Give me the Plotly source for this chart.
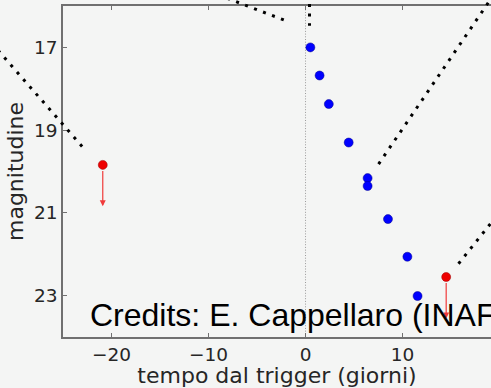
import plotly.graph_objects as go

# ---- data ----
blue_days = [0.5, 1.45, 2.4, 4.45, 6.4, 6.4, 8.5, 10.5, 11.55]
blue_mag = [17.0, 17.68, 18.37, 19.30, 20.16, 20.35, 21.15, 22.06, 23.01]
red_days = [-20.9, 14.5]
red_mag = [19.84, 22.55]
limit_drop = [1.0, 1.0]

# model / guide dotted lines (start, end) in data units
model_x0 = [-33.0, -9.0, 0.41, 7.53, 15.77]
model_y0 = [16.72, 15.73, 15.95, 19.82, 22.23]
model_x1 = [-22.9, -1.65, 0.41, 19.3, 20.5]
model_y1 = [19.43, 16.39, 16.48, 15.76, 20.84]

x_ticks = [-20, -10, 0, 10, 20]
y_ticks = [17, 19, 21, 23]
x_range = [-25, 19.12]
y_range = [24, 16]

BG = "#f4f5f4"
SPINE = "#707070"
TXT = "#262626"


def fx(v):
    return (v - x_range[0]) / (x_range[1] - x_range[0])


def fy(v):
    return (v - y_range[0]) / (y_range[1] - y_range[0])


fig = go.Figure()

fig.add_trace(go.Scatter(
    x=blue_days, y=blue_mag, mode="markers",
    marker=dict(color="#0000ff", size=9, line=dict(color="#00008a", width=0.5)),
    cliponaxis=False, showlegend=False))
fig.add_trace(go.Scatter(
    x=red_days, y=red_mag, mode="markers",
    marker=dict(color="#ee0000", size=9, line=dict(color="#9a0000", width=0.5)),
    cliponaxis=False, showlegend=False))

shapes = []
# vertical trigger line
shapes.append(dict(type="line", xref="x", yref="y domain", x0=0, x1=0, y0=0, y1=1,
                   line=dict(color="#9a9a9a", width=1, dash="1px,1.7px"), layer="below"))
for a, b, c, d in zip(model_x0, model_y0, model_x1, model_y1):
    shapes.append(dict(type="line", xref="x domain", yref="y domain",
                       x0=fx(a), y0=fy(b), x1=fx(c), y1=fy(d),
                       line=dict(color="black", width=3, dash="3px,6.6px")))

annotations = []
for xd, yd, dr in zip(red_days, red_mag, limit_drop):
    annotations.append(dict(x=xd, y=yd + dr, ax=xd, ay=yd, xref="x", yref="y",
                            axref="x", ayref="y", text="", showarrow=True,
                            arrowhead=2, arrowsize=1, arrowwidth=1.2,
                            arrowcolor="#f03a3a", startstandoff=4.5, standoff=0))
annotations.append(dict(x=(88 - 63) / 428, y=0.066, xref="paper", yref="paper",
                        xanchor="left", yanchor="middle", showarrow=False,
                        text="Credits: E. Cappellaro (INAF)",
                        font=dict(family="Liberation Sans, Arial", size=32, color="black")))

fig.update_layout(
    width=491, height=388,
    margin=dict(l=63, r=0, t=6, b=51),
    paper_bgcolor=BG, plot_bgcolor=BG,
    font=dict(family="DejaVu Sans", size=18.5, color=TXT),
    shapes=shapes, annotations=annotations,
    showlegend=False,
)
fig.update_xaxes(
    range=x_range, tickvals=x_ticks, showgrid=False, zeroline=False,
    showline=True, linecolor=SPINE, linewidth=1.5, mirror="allticks",
    ticks="inside", ticklen=4, tickcolor=SPINE, tickwidth=1,
    title=dict(text="tempo dal trigger (giorni)", standoff=3),
    tickfont=dict(size=18.5, color=TXT),
)
fig.update_yaxes(
    range=y_range, tickvals=y_ticks, showgrid=False, zeroline=False,
    showline=True, linecolor=SPINE, linewidth=1.5, mirror=False,
    ticks="inside", ticklen=4, tickcolor=SPINE, tickwidth=1,
    title=dict(text="magnitudine", standoff=4),
    tickfont=dict(size=18.5, color=TXT), ticklabelstandoff=0,
)

fig.write_html(
    "out.html",
    config={"displayModeBar": False},
    post_script="document.body.style.margin='0';document.body.style.overflow='hidden';"
                "document.body.style.background='" + BG + "';",
)
